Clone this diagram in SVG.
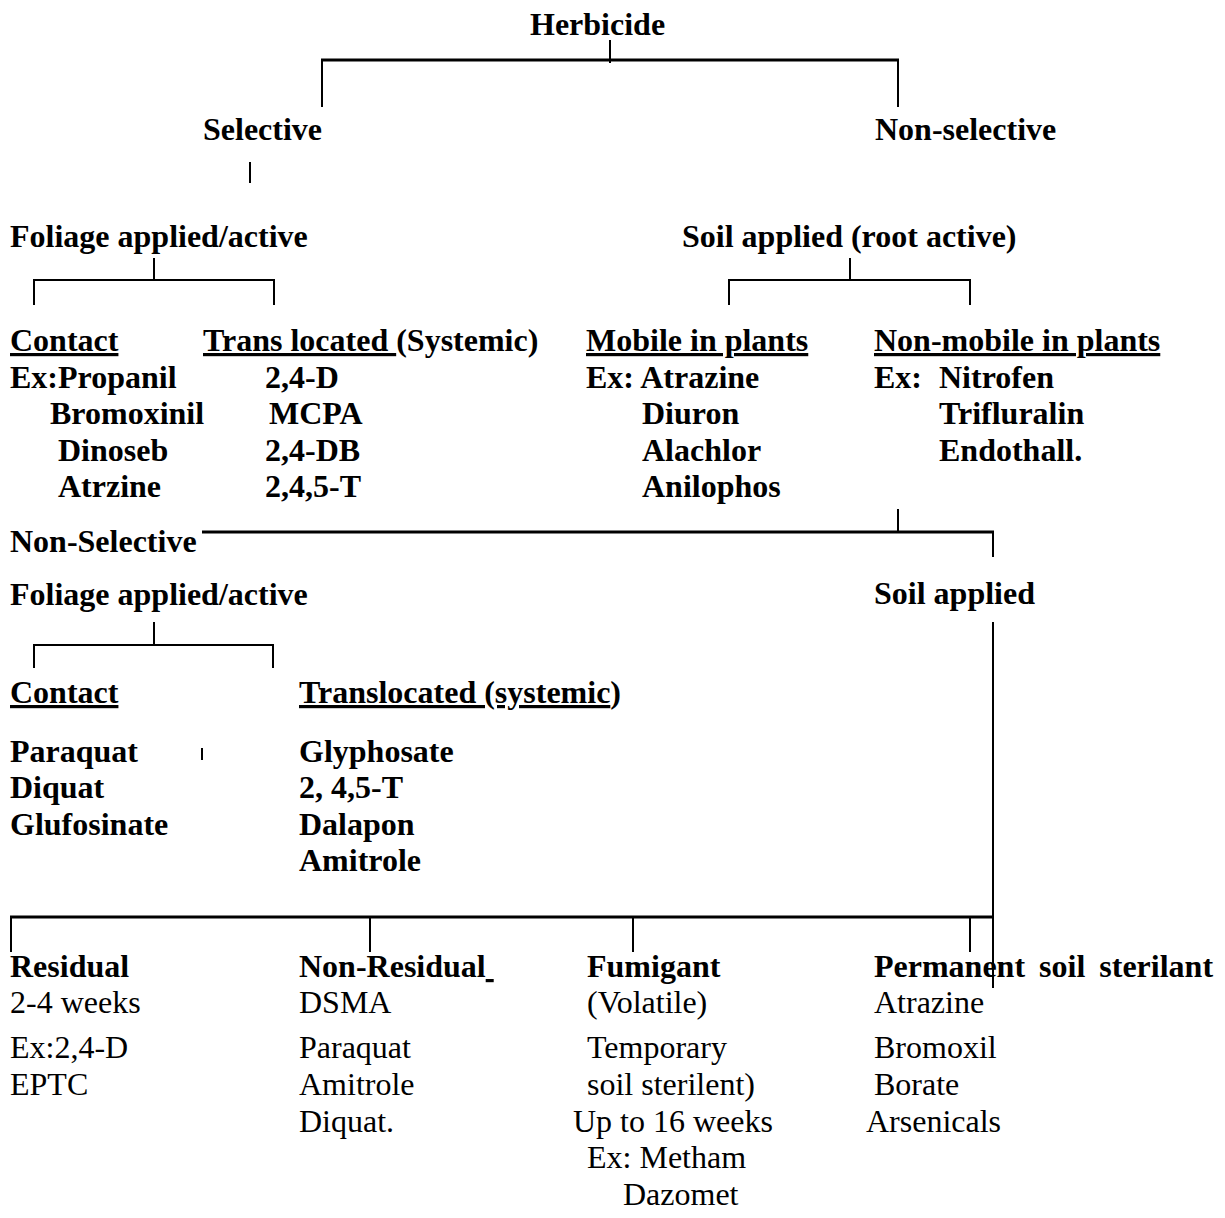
<svg xmlns="http://www.w3.org/2000/svg" width="1225" height="1218" viewBox="0 0 1225 1218">
<style>
text{font-family:"Liberation Serif","Times New Roman",serif;font-size:32px;fill:#000}
.b{font-weight:bold}
.u{text-decoration:underline;text-decoration-thickness:3px}
.c line{stroke:#000;stroke-width:2}
.c .t{stroke-width:3}
</style>
<rect width="1225" height="1218" fill="#fff"/>
<g class="c" id="connectors">
<line x1="610" y1="40" x2="610" y2="63"/>
<line class="t" x1="321" y1="60" x2="899" y2="60"/>
<line x1="322" y1="60" x2="322" y2="107"/>
<line x1="898" y1="60" x2="898" y2="107"/>
<line x1="250" y1="162" x2="250" y2="183"/>
<line x1="154" y1="258" x2="154" y2="280"/>
<line x1="33" y1="280" x2="275" y2="280"/>
<line x1="34" y1="280" x2="34" y2="305"/>
<line x1="274" y1="280" x2="274" y2="305"/>
<line x1="850" y1="258" x2="850" y2="280"/>
<line x1="728" y1="280" x2="971" y2="280"/>
<line x1="729" y1="280" x2="729" y2="305"/>
<line x1="970" y1="280" x2="970" y2="305"/>
<line x1="898" y1="509" x2="898" y2="532"/>
<line class="t" x1="202" y1="532" x2="994" y2="532"/>
<line x1="993" y1="532" x2="993" y2="557"/>
<line x1="154" y1="622" x2="154" y2="645"/>
<line x1="33" y1="645" x2="274" y2="645"/>
<line x1="34" y1="645" x2="34" y2="668"/>
<line x1="273" y1="645" x2="273" y2="668"/>
<line x1="202" y1="748" x2="202" y2="760"/>
<line x1="993" y1="622" x2="993" y2="988"/>
<line class="t" x1="10" y1="917" x2="994" y2="917"/>
<line x1="11" y1="917" x2="11" y2="952"/>
<line x1="370" y1="917" x2="370" y2="952"/>
<line x1="633" y1="917" x2="633" y2="952"/>
<line x1="970" y1="917" x2="970" y2="952"/>
</g>
<g id="herbicide"><text class="b" x="530" y="35">Herbicide</text></g>
<g id="selective"><text class="b" x="203" y="140">Selective</text></g>
<g id="non-selective"><text class="b" x="875" y="140">Non-selective</text></g>
<g id="foliage1"><text class="b" x="10" y="247">Foliage applied/active</text></g>
<g id="soil1"><text class="b" x="682" y="247">Soil applied (root active)</text></g>
<g id="contact1" class="b">
<text x="10" y="351"><tspan class="u">Contact</tspan></text>
<text x="10" y="388">Ex:Propanil</text>
<text x="50" y="424">Bromoxinil</text>
<text x="58" y="461">Dinoseb</text>
<text x="58" y="497">Atrzine</text>
</g>
<g id="trans1" class="b">
<text x="203" y="351"><tspan class="u">Trans located </tspan>(Systemic)</text>
<text x="265" y="388">2,4-D</text>
<text x="269" y="424">MCPA</text>
<text x="265" y="461">2,4-DB</text>
<text x="265" y="497">2,4,5-T</text>
</g>
<g id="mobile" class="b">
<text x="586" y="351"><tspan class="u">Mobile in plants</tspan></text>
<text x="586" y="388">Ex: Atrazine</text>
<text x="642" y="424">Diuron</text>
<text x="642" y="461">Alachlor</text>
<text x="642" y="497">Anilophos</text>
</g>
<g id="nonmobile" class="b">
<text x="874" y="351"><tspan class="u">Non-mobile in plants</tspan></text>
<text x="874" y="388">Ex:</text>
<text x="939" y="388">Nitrofen</text>
<text x="939" y="424">Trifluralin</text>
<text x="939" y="461">Endothall.</text>
</g>
<g id="non-selective2"><text class="b" x="10" y="552">Non-Selective</text></g>
<g id="foliage2"><text class="b" x="10" y="605">Foliage applied/active</text></g>
<g id="soil2"><text class="b" x="874" y="604">Soil applied</text></g>
<g id="contact2" class="b">
<text x="10" y="703"><tspan class="u">Contact</tspan></text>
<text x="10" y="762">Paraquat</text>
<text x="10" y="798">Diquat</text>
<text x="10" y="835">Glufosinate</text>
</g>
<g id="trans2" class="b">
<text x="299" y="703"><tspan class="u">Translocated (systemic</tspan>)</text>
<text x="299" y="762">Glyphosate</text>
<text x="299" y="798">2, 4,5-T</text>
<text x="299" y="835">Dalapon</text>
<text x="299" y="871">Amitrole</text>
</g>
<g id="residual">
<text class="b" x="10" y="977">Residual</text>
<text x="10" y="1013">2-4 weeks</text>
<text x="10" y="1058">Ex:2,4-D</text>
<text x="10" y="1095">EPTC</text>
</g>
<g id="non-residual">
<text class="b" x="299" y="977">Non-Residual<tspan class="u">&#160;</tspan></text>
<text x="299" y="1013">DSMA</text>
<text x="299" y="1058">Paraquat</text>
<text x="299" y="1095">Amitrole</text>
<text x="299" y="1132">Diquat.</text>
</g>
<g id="fumigant">
<text class="b" x="587" y="977">Fumigant</text>
<text x="587" y="1013">(Volatile)</text>
<text x="587" y="1058">Temporary</text>
<text x="587" y="1095">soil sterilent)</text>
<text x="573" y="1132">Up to 16 weeks</text>
<text x="587" y="1168">Ex: Metham</text>
<text x="623" y="1205">Dazomet</text>
</g>
<g id="permanent">
<text class="b" x="874" y="977" style="word-spacing:6px">Permanent soil sterilant</text>
<text x="874" y="1013">Atrazine</text>
<text x="874" y="1058">Bromoxil</text>
<text x="874" y="1095">Borate</text>
<text x="866" y="1132">Arsenicals</text>
</g>
</svg>
